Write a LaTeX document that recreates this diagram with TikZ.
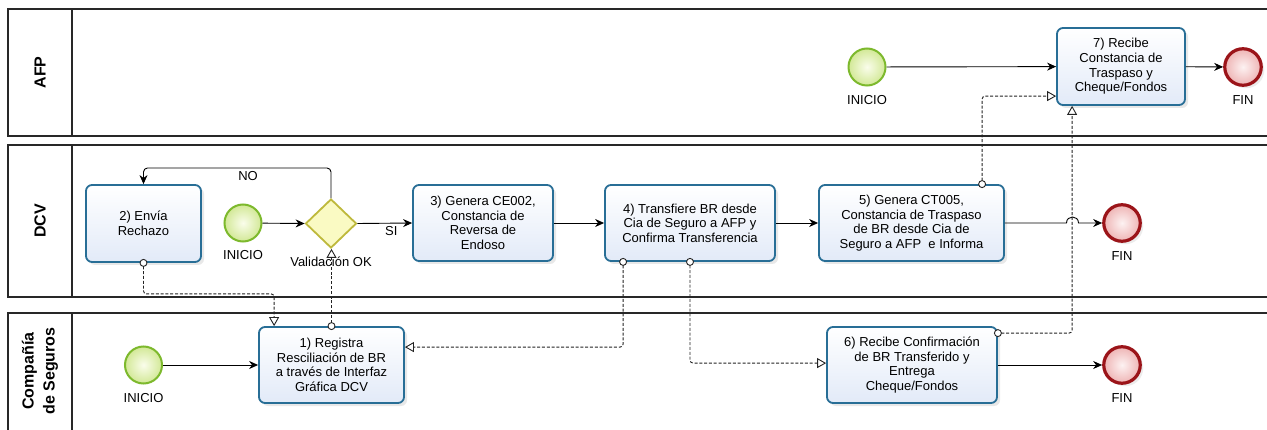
\documentclass[tikz,border=0pt]{standalone}
\usepackage{fontspec}
\setmainfont{Liberation Sans}
\usetikzlibrary{arrows.meta,shapes.geometric,shadows,calc}
\definecolor{taskborder}{RGB}{40,110,150}
\definecolor{taskbot}{RGB}{226,234,248}
\definecolor{startborder}{RGB}{125,185,45}
\definecolor{startin}{RGB}{250,253,235}
\definecolor{startout}{RGB}{210,232,150}
\definecolor{endborder}{RGB}{155,20,25}
\definecolor{endin}{RGB}{253,242,242}
\definecolor{endout}{RGB}{238,180,180}
\definecolor{gwborder}{RGB}{190,185,60}
\definecolor{gwfill}{RGB}{250,250,195}
\definecolor{poolline}{RGB}{40,40,40}
\definecolor{msgcol}{RGB}{35,35,35}
\newcommand{\taskfont}{\fontsize{13}{14.6}\selectfont}
\newcommand{\lanefont}{\fontsize{16}{21}\selectfont\bfseries}
\begin{document}
\begin{tikzpicture}[x=1pt,y=-1pt,
  pool/.style={draw=poolline,line width=1.2pt},
  lanelbl/.style={rotate=90,font=\lanefont,align=center,inner sep=0pt},
  task/.style={draw=taskborder,line width=1.8pt,rounded corners=6pt,top color=white,bottom color=taskbot,
    drop shadow={opacity=0.18,shadow xshift=3pt,shadow yshift=-3pt},align=center,font=\taskfont,inner sep=1pt},
  startev/.style={circle,draw=startborder,line width=2pt,inner color=startin,outer color=startout,minimum size=37pt,inner sep=0pt},
  endev/.style={circle,draw=endborder,line width=3.2pt,inner color=endin,outer color=endout,minimum size=36.5pt,inner sep=0pt,
    drop shadow={opacity=0.15,shadow xshift=3pt,shadow yshift=-3pt}},
  gateway/.style={diamond,draw=gwborder,line width=1.8pt,fill=gwfill,minimum width=51pt,minimum height=49pt,inner sep=0pt,aspect=1},
  lbl/.style={font=\taskfont,inner sep=0pt},
  seq/.style={draw=black,line width=0.9pt,-{Stealth[length=9pt,width=8pt]}},
  msg/.style={draw=msgcol,line width=0.9pt,dash pattern=on 3pt off 1.8pt,rounded corners=3pt,shorten <=3.5pt,
    -{Triangle[open,length=9pt,width=10pt,fill=white]}},
  msgcirc/.style={draw=msgcol,line width=0.9pt,fill=white}
]
\useasboundingbox (0,0) rectangle (1267,430);
\fill[white] (0,0) rectangle (1267,430);

% pools
\draw[pool] (1290,9) -- (8,9) -- (8,136) -- (1290,136);
\draw[pool] (72,9) -- (72,136);
\draw[pool] (1290,145) -- (8,145) -- (8,297) -- (1290,297);
\draw[pool] (72,145) -- (72,297);
\draw[pool] (1290,313) -- (8,313) -- (8,440);
\draw[pool] (72,313) -- (72,440);
\node[lanelbl] (lafp) at (40,72.5) {AFP};
\node[lanelbl] (ldcv) at (40,221) {DCV};
\node[lanelbl] (lcia) at (40,371) {Compañía\\de Seguros};

% AFP lane
\node[startev] (s1) at (867,67) {};
\node[lbl] (s1l) at (867,100) {INICIO};
\node[task,minimum width=128pt,minimum height=77pt] (t7) at (1121,66.5) {7) Recibe\\Constancia de\\Traspaso y\\Cheque/Fondos};
\node[endev] (e1) at (1243,67) {};
\node[lbl] (e1l) at (1243,100) {FIN};

% DCV lane
\node[task,minimum width=115pt,minimum height=77pt] (t2) at (143.5,223.5) {2) Envía\\Rechazo};
\node[startev] (s2) at (243,223) {};
\node[lbl] (s2l) at (243,255) {INICIO};
\node[gateway] (g) at (331,223.5) {};
\node[lbl] (gl) at (331,262) {Validación OK};
\node[task,minimum width=140pt,minimum height=76pt] (t3) at (483,223) {3) Genera CE002,\\Constancia de\\Reversa de\\Endoso};
\node[task,minimum width=170pt,minimum height=76pt] (t4) at (690,223) {4) Transfiere BR desde\\Cia de Seguro a AFP y\\Confirma Transferencia};
\node[task,minimum width=185pt,minimum height=76pt] (t5) at (911.5,223) {5) Genera CT005,\\Constancia de Traspaso\\de BR desde Cia de\\Seguro a AFP\ \ e Informa};
\node[endev] (e2) at (1122,223) {};
\node[lbl] (e2l) at (1122,256) {FIN};

% Compania lane
\node[startev] (s3) at (143.5,365) {};
\node[lbl] (s3l) at (143.5,398) {INICIO};
\node[task,minimum width=145pt,minimum height=76pt] (t1) at (331.5,365) {1) Registra\\Resciliación de BR\\a través de Interfaz\\Gráfica DCV};
\node[task,minimum width=170pt,minimum height=76pt] (t6) at (912,365) {6) Recibe Confirmación\\de BR Transferido y\\Entrega\\Cheque/Fondos};
\node[endev] (e3) at (1122,365) {};
\node[lbl] (e3l) at (1122,398) {FIN};

% sequence flows
\draw[seq] (s1) -- (t7);
\draw[seq] (t7) -- (e1);
\draw[seq] (s2) -- (g.west);
\draw[seq] (g.east) -- node[lbl,pos=0.62,below=3pt] (si) {SI} (t3.west);
\draw[seq] (t3) -- (t4);
\draw[seq] (t4) -- (t5);
\coordinate (hopa) at (1066.5,223);
\coordinate (hopb) at (1078.5,223);
\draw[seq] (t5.east) -- (hopa) .. controls (1066.5,215) and (1078.5,215) .. (hopb) -- (e2.west);
\coordinate (noc) at (331,168);
\draw[seq,rounded corners=4pt] (g.north) -- (noc) -- (noc -| t2.north) -- (t2.north);
\node[lbl] (nol) at (248,176) {NO};
\draw[seq] (s3) -- (t1);
\draw[seq] (t6) -- (e3);

% message flows
\coordinate (m1s) at (t2.south);
\coordinate (m1e) at ($(t1.north west)+(16,0)$);
\draw[msg] (m1s) -- ++(0,31) -| (m1e);
\draw[msgcirc] (m1s) circle (3.5pt);

\coordinate (m2s) at (t1.north);
\draw[msg] (m2s) -- (m2s |- g.south);
\draw[msgcirc] (m2s) circle (3.5pt);

\coordinate (m3s) at ($(t4.south west)+(19,0)$);
\coordinate (m3e) at ($(t1.north east)+(0,21)$);
\draw[msg] (m3s) |- (m3e);
\draw[msgcirc] (m3s) circle (3.5pt);

\coordinate (m4s) at (t4.south);
\coordinate (m4e) at ($(t6.north west)+(0,37)$);
\draw[msg] (m4s) |- (m4e);
\draw[msgcirc] (m4s) circle (3.5pt);

\coordinate (m5s) at ($(t5.north west)+(164,0)$);
\coordinate (m5e) at ($(t7.north west)+(0,69)$);
\draw[msg] (m5s) |- (m5e);
\draw[msgcirc] (m5s) circle (3.5pt);

\coordinate (m6s) at ($(t6.north east)+(0,7)$);
\coordinate (m6e) at ($(t7.south west)+(16,0)$);
\draw[msg] (m6s) -| (m6e);
\draw[msgcirc] (m6s) circle (3.5pt);
\end{tikzpicture}
\end{document}
